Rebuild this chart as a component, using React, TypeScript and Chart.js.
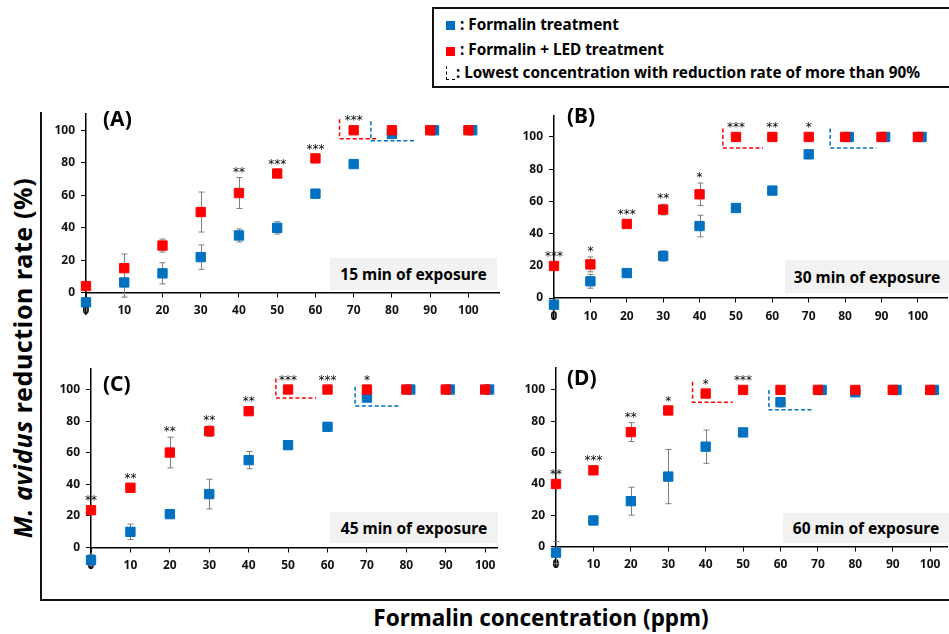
import React, { useEffect, useRef } from "react";
import { Chart, registerables } from "chart.js";
Chart.register(...registerables);

// ---------- data ----------
const concentrations = [0, 10, 20, 30, 40, 50, 60, 70, 80, 90, 100];
const xTickLabels = [0, 10, 20, 30, 40, 50, 60, 70, 80, 90, 100];
const yTickLabels = [0, 20, 40, 60, 80, 100];

// (A) 15 min
const ledA = [4.2, 15.2, 29.1, 49.7, 61.4, 73.4, 82.7, 100, 100, 100, 100];
const ledErrA = [0, 8.7, 4, 12.3, 9.5, 0, 0, 0, 0, 0, 0];
const formA = [-5.8, 6.4, 12, 22, 35.3, 40, 61, 79.2, 97.7, 100, 100];
const formErrA = [0, 9, 6.5, 7.5, 4, 3.8, 2.5, 0, 0, 0, 0];
const formXA = [0, 10, 20, 30, 40, 50, 60, 70, 80, 91, 101];
const sigA = ["", "", "", "", "**", "***", "***", "***", "", "", ""];
const ledBracketA = [66.3, 76.5, 106.7, 94.8];
const formBracketA = [74.5, 86.3, 105.6, 93.6];

// (B) 30 min
const ledB = [19.9, 20.9, 46, 54.9, 64.4, 100, 100, 100, 100, 100, 100];
const ledErrB = [0, 4.6, 0, 3.3, 7, 0, 0, 0, 0, 0, 0];
const formB = [-4.1, 10.4, 15.5, 26.1, 44.7, 55.9, 66.7, 89.2, 100, 100, 100];
const formErrB = [0, 4.3, 0, 3.2, 6.7, 0, 0, 0, 0, 0, 0];
const formXB = [0, 10, 20, 30, 40, 50, 60, 70, 81, 91, 101];
const sigB = ["***", "*", "***", "**", "*", "***", "**", "*", "", "", ""];
const ledBracketB = [46.4, 57.4, 105.2, 93.2];
const formBracketB = [75.9, 88.6, 105.2, 93.2];

// (C) 45 min
const ledC = [23.6, 37.8, 60.1, 73.6, 86.3, 100, 100, 100, 100, 100, 100];
const ledErrC = [0, 0, 9.7, 3.3, 0, 0, 0, 0, 0, 0, 0];
const formC = [-8, 9.9, 21.1, 33.8, 55.3, 64.8, 76.4, 94.9, 100, 100, 100];
const formErrC = [3.5, 4.9, 0, 9.4, 5.5, 1.5, 0, 0, 0, 0, 0];
const formXC = [0, 10, 20, 30, 40, 50, 60, 70, 81, 91, 101];
const sigC = ["**", "**", "**", "**", "**", "***", "***", "*", "", "", ""];
const ledBracketC = [46.9, 57.1, 107, 94.7];
const formBracketC = [67, 78.6, 101.7, 89.5];

// (D) 60 min
const ledD = [40, 48.7, 73.1, 86.9, 97.7, 100, 100, 100, 100, 100, 100];
const ledErrD = [0, 0, 6, 0, 0, 0, 0, 0, 0, 0, 0];
const formD = [-3.8, 16.7, 29, 44.7, 63.8, 72.9, 92.2, 100, 98.5, 100, 100];
const formErrD = [7, 0, 8.9, 17.3, 10.6, 0, 3, 0, 0, 0, 0];
const formXD = [0, 10, 20, 30, 40, 50, 60, 71, 80, 91, 101];
const sigD = ["**", "***", "**", "*", "*", "***", "", "", "", "", ""];
const ledBracketD = [36.5, 47.2, 105.3, 92.2];
const formBracketD = [56.9, 69, 100, 87.3];

// ---------- styling / layout ----------
const BLUE = "#0070C0";
const RED = "#FF0000";
const FONT = '"Noto Sans", "DejaVu Sans", sans-serif';
const YW = 44; // y-axis box width
const PT = 16, PB = 16, PR = 16;

type Panel = {
  key: string; label: string; exposure: string;
  led: number[]; ledErr: number[]; form: number[]; formErr: number[]; formX: number[];
  sig: string[]; ledBracket: number[]; formBracket: number[];
  areaLeft: number; areaTop: number; areaRight: number; areaBottom: number;
  xMax: number; yMin: number; yMax: number;
  labelPos: [number, number]; boxPos: [number, number, number, number];
};

const panels: Panel[] = [
  { key: "A", label: "(A)", exposure: "15 min of exposure", led: ledA, ledErr: ledErrA, form: formA, formErr: formErrA, formX: formXA, sig: sigA, ledBracket: ledBracketA, formBracket: formBracketA,
    areaLeft: 86, areaTop: 114.3, areaRight: 498.6, areaBottom: 314.1, xMax: 108, yMin: -13, yMax: 110,
    labelPos: [103, 118], boxPos: [330, 258, 167, 32] },
  { key: "B", label: "(B)", exposure: "30 min of exposure", led: ledB, ledErr: ledErrB, form: formB, formErr: formErrB, formX: formXB, sig: sigB, ledBracket: ledBracketB, formBracket: formBracketB,
    areaLeft: 554, areaTop: 116.1, areaRight: 947.1, areaBottom: 318.9, xMax: 108, yMin: -13, yMax: 113,
    labelPos: [567, 115], boxPos: [785, 260, 164, 33] },
  { key: "C", label: "(C)", exposure: "45 min of exposure", led: ledC, ledErr: ledErrC, form: formC, formErr: formErrC, formX: formXC, sig: sigC, ledBracket: ledBracketC, formBracket: formBracketC,
    areaLeft: 91, areaTop: 368.5, areaRight: 496.8, areaBottom: 567.5, xMax: 103, yMin: -13, yMax: 113,
    labelPos: [103, 383], boxPos: [330, 512, 168, 31] },
  { key: "D", label: "(D)", exposure: "60 min of exposure", led: ledD, ledErr: ledErrD, form: formD, formErr: formErrD, formX: formXD, sig: sigD, ledBracket: ledBracketD, formBracket: formBracketD,
    areaLeft: 556, areaTop: 368, areaRight: 946.8, areaBottom: 567.4, xMax: 104.5, yMin: -13, yMax: 114,
    labelPos: [567, 377], boxPos: [783, 513, 166, 30] },
];

function overlayPlugin(p: Panel) {
  return {
    id: "overlay" + p.key,
    beforeDatasetsDraw(chart: any) {
      const { ctx } = chart;
      const x = chart.scales.x, y = chart.scales.y;
      ctx.save();
      ctx.strokeStyle = "#7f7f7f";
      ctx.lineWidth = 1;
      const drawErr = (xs: number[], vs: number[], es: number[]) => {
        for (let i = 0; i < xs.length; i++) {
          if (!es[i]) continue;
          const px = Math.round(x.getPixelForValue(xs[i])) + 0.5;
          const t = y.getPixelForValue(vs[i] + es[i]);
          const b = y.getPixelForValue(vs[i] - es[i]);
          ctx.beginPath();
          ctx.moveTo(px, t); ctx.lineTo(px, b);
          ctx.moveTo(px - 3, t); ctx.lineTo(px + 3, t);
          ctx.moveTo(px - 3, b); ctx.lineTo(px + 3, b);
          ctx.stroke();
        }
      };
      drawErr(p.formX, p.form, p.formErr);
      drawErr(concentrations, p.led, p.ledErr);
      ctx.restore();
    },
    afterDatasetsDraw(chart: any) {
      const { ctx } = chart;
      const x = chart.scales.x, y = chart.scales.y;
      ctx.save();
      const bracket = (b: number[], color: string) => {
        const x1 = x.getPixelForValue(b[0]), x2 = x.getPixelForValue(b[1]);
        const yt = y.getPixelForValue(b[2]), yb = y.getPixelForValue(b[3]);
        ctx.strokeStyle = color;
        ctx.lineWidth = 1.5;
        ctx.setLineDash([4, 2.5]);
        ctx.beginPath();
        ctx.moveTo(x1, yt); ctx.lineTo(x1, yb); ctx.lineTo(x2, yb);
        ctx.stroke();
      };
      bracket(p.ledBracket, RED);
      bracket(p.formBracket, BLUE);
      ctx.setLineDash([]);
      ctx.fillStyle = "#000";
      ctx.font = '12px "DejaVu Sans", sans-serif';
      ctx.textAlign = "center";
      ctx.textBaseline = "middle";
      for (let i = 0; i < concentrations.length; i++) {
        if (!p.sig[i]) continue;
        const px = x.getPixelForValue(concentrations[i]);
        const mk = y.getPixelForValue(p.led[i]) - 12;
        const cap = p.ledErr[i] ? y.getPixelForValue(p.led[i] + p.ledErr[i]) - 8 : Infinity;
        ctx.fillText(p.sig[i], px, Math.min(mk, cap) + 3);
      }
      ctx.restore();
    },
  };
}

function PanelChart({ p }: { p: Panel }) {
  const ref = useRef<HTMLCanvasElement>(null);
  const left = p.areaLeft - YW;
  const top = p.areaTop - PT;
  const width = Math.round(p.areaRight + PR - left);
  const height = Math.round(p.areaBottom + PB - top);
  useEffect(() => {
    const tickFont = { family: FONT, size: 12, weight: "bold" as const };
    const chart = new Chart(ref.current as HTMLCanvasElement, {
      type: "scatter",
      data: {
        datasets: [
          {
            label: "Formalin + LED treatment",
            data: concentrations.map((c, i) => ({ x: c, y: p.led[i] })),
            backgroundColor: RED, borderColor: RED, borderWidth: 1,
            pointStyle: "rect", pointRadius: 6.6, clip: false as any,
          },
          {
            label: "Formalin treatment",
            data: p.formX.map((c, i) => ({ x: c, y: p.form[i] })),
            backgroundColor: BLUE, borderColor: BLUE, borderWidth: 1,
            pointStyle: "rect", pointRadius: 6.6, clip: false as any,
          },
        ],
      },
      options: {
        animation: false,
        responsive: false,
        devicePixelRatio: 1,
        layout: { padding: { left: 0, top: PT, right: PR, bottom: PB } },
        plugins: { legend: { display: false }, tooltip: { enabled: false } },
        scales: {
          x: {
            type: "linear", min: 0, max: p.xMax,
            position: { y: 0 } as any,
            afterBuildTicks: (s: any) => { s.ticks = xTickLabels.map((v) => ({ value: v })); },
            grid: { drawOnChartArea: false, drawTicks: true, tickLength: 4, color: "#000", lineWidth: 1 },
            border: { display: true, color: "#000", width: 1.5 },
            ticks: { font: tickFont, color: "#111", padding: 7, maxRotation: 0, autoSkip: false },
          },
          y: {
            type: "linear", min: p.yMin, max: p.yMax,
            afterBuildTicks: (s: any) => { s.ticks = yTickLabels.map((v) => ({ value: v })); },
            afterFit: (s: any) => { s.width = YW; },
            grid: { drawOnChartArea: false, drawTicks: true, tickLength: 5, color: "#000", lineWidth: 1 },
            border: { display: true, color: "#000", width: 1.5 },
            ticks: { font: tickFont, color: "#111", padding: 6 },
          },
        },
      },
      plugins: [overlayPlugin(p)],
    });
    return () => chart.destroy();
  }, []);
  return (
    <canvas ref={ref} width={width} height={height}
      style={{ position: "absolute", left, top, width, height }} />
  );
}

const legendText = { position: "absolute" as const, fontSize: 15.3, fontWeight: 700, lineHeight: "20px", whiteSpace: "nowrap" as const };

export default function App() {
  return (
    <div style={{ position: "fixed", left: 0, top: 0, width: 949, height: 634, overflow: "hidden", background: "#fff", fontFamily: FONT, color: "#000" }}>
      {/* legend */}
      <div style={{ position: "absolute", left: 432, top: 7, width: 540, height: 81, border: "2px solid #111", boxSizing: "border-box" }}>
        <div style={{ position: "absolute", left: 12, top: 12, width: 9, height: 9, background: BLUE }} />
        <div style={{ ...legendText, left: 26, top: 5 }}>: Formalin treatment</div>
        <div style={{ position: "absolute", left: 12, top: 38, width: 9, height: 9, background: RED }} />
        <div style={{ ...legendText, left: 26, top: 30 }}>: Formalin + LED treatment</div>
        <div style={{ position: "absolute", left: 12, top: 57, width: 8, height: 13, borderLeft: "1.5px dashed #000", borderBottom: "1.5px dashed #000" }} />
        <div style={{ ...legendText, left: 22, top: 53 }}>: Lowest concentration with reduction rate of more than 90%</div>
      </div>
      {/* outer frame */}
      <div style={{ position: "absolute", left: 40, top: 112, width: 2, height: 489, background: "#111" }} />
      <div style={{ position: "absolute", left: 40, top: 599, width: 909, height: 2, background: "#111" }} />
      {/* axis titles */}
      <div style={{ position: "absolute", left: 22, top: 358, transform: "translate(-50%, -50%) rotate(-90deg)", fontSize: 25, letterSpacing: 0.6, fontWeight: 700, whiteSpace: "nowrap" }}>
        <i>M. avidus</i> reduction rate (%)
      </div>
      <div style={{ position: "absolute", left: 541, top: 617, transform: "translate(-50%, -50%)", fontSize: 22.5, fontWeight: 700, whiteSpace: "nowrap" }}>
        Formalin concentration (ppm)
      </div>
      {panels.map((p) => (
        <div key={p.key}>
          <div style={{ position: "absolute", left: p.boxPos[0], top: p.boxPos[1], width: p.boxPos[2], height: p.boxPos[3], background: "#f2f2f2", display: "flex", alignItems: "center", justifyContent: "center", fontSize: 15.5, fontWeight: 700, whiteSpace: "nowrap" }}>
            {p.exposure}
          </div>
          <PanelChart p={p} />
          <div style={{ position: "absolute", left: p.labelPos[0], top: p.labelPos[1], transform: "translateY(-50%)", fontSize: 21, fontWeight: 700, lineHeight: "24px" }}>
            {p.label}
          </div>
        </div>
      ))}
    </div>
  );
}
